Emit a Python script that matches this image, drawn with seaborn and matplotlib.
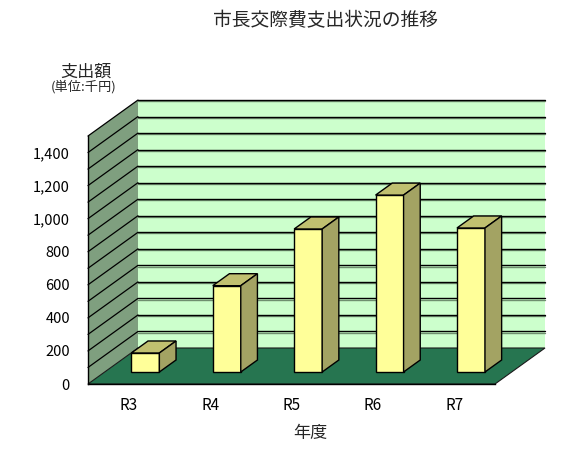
import numpy as np
import matplotlib
matplotlib.use("Agg")
import matplotlib.pyplot as plt
from matplotlib.patches import Polygon
from matplotlib.ticker import FixedLocator
import seaborn as sns

# data
years = ["R3", "R4", "R5", "R6", "R7"]
amounts = [115, 522, 865, 1070, 871]
y_ticks = [0, 200, 400, 600, 800, 1000, 1200, 1400]
grid_levels = list(range(100, 1501, 100))

title = "市長交際費支出状況の推移"
ylabel_main = "支出額"
ylabel_unit = "(単位:千円)"
xlabel = "年度"

# colours
wall_back = "#CCFFCC"
wall_side = "#7F9F7F"
floor_col = "#267550"
bar_front = "#FFFF99"
bar_top = "#C0C070"
bar_side = "#A3A363"

sns.set_style("white")
plt.rcParams["font.family"] = ["Noto Sans CJK JP", "DejaVu Sans"]

fig = plt.figure(figsize=(5.75, 4.55), dpi=100)
ax = fig.add_axes([88/575, 71/455, 407/575, 248/455])
ax.set_xlim(-0.5, 4.5)
ax.set_ylim(0, 1500)

# depth of the 3d box in data units
DX = 50 / 81.4
DY = 36 / (248 / 1500)

# walls and floor
left_wall = Polygon([(-0.5, 0), (-0.5 + DX, DY), (-0.5 + DX, 1500 + DY), (-0.5, 1500)],
                    closed=True, facecolor=wall_side, edgecolor="none", zorder=0, clip_on=False)
back_wall = Polygon([(-0.5 + DX, DY), (4.5 + DX, DY), (4.5 + DX, 1500 + DY), (-0.5 + DX, 1500 + DY)],
                    closed=True, facecolor=wall_back, edgecolor="none", zorder=0, clip_on=False)
floor = Polygon([(-0.5, 0), (4.5, 0), (4.5 + DX, DY), (-0.5 + DX, DY)],
                closed=True, facecolor=floor_col, edgecolor="#1a1a1a", lw=0.8, zorder=1, clip_on=False)
ax.add_patch(left_wall)
ax.add_patch(back_wall)
ax.add_patch(floor)

shadow = 1.2 / (248 / 1500)  # one pixel or so below each grid line
for lv in grid_levels:
    ax.plot([-0.5 + DX, 4.5 + DX], [lv + DY - shadow, lv + DY - shadow], color="#6f8f6f", lw=1, zorder=1, clip_on=False)
    ax.plot([-0.5 + DX, 4.5 + DX], [lv + DY, lv + DY], color="black", lw=1, zorder=1, clip_on=False)
    ax.plot([-0.5, -0.5 + DX], [lv, lv + DY], color="black", lw=0.9, zorder=1, clip_on=False)

# bars (front faces) by seaborn, pushed to 1/3 depth
sns.barplot(x=years, y=amounts, color=bar_front, saturation=1, width=0.344,
            edgecolor="black", linewidth=1, ax=ax, zorder=3)
dx, dy = DX / 3, DY / 3
for p in list(ax.patches):
    if p in (left_wall, back_wall, floor):
        continue
    p.set_x(p.get_x() + dx)
    p.set_y(p.get_y() + dy)
    p.set_clip_on(False)
    x0, y0 = p.get_x(), p.get_y()
    x1, y1 = x0 + p.get_width(), y0 + p.get_height()
    top = Polygon([(x0, y1), (x1, y1), (x1 + dx, y1 + dy), (x0 + dx, y1 + dy)],
                  closed=True, facecolor=bar_top, edgecolor="black", lw=1, zorder=3, clip_on=False)
    side = Polygon([(x1, y0), (x1 + dx, y0 + dy), (x1 + dx, y1 + dy), (x1, y1)],
                   closed=True, facecolor=bar_side, edgecolor="black", lw=1, zorder=3, clip_on=False)
    ax.add_patch(top)
    ax.add_patch(side)

ax.set_xlim(-0.5, 4.5)
ax.set_ylim(0, 1500)

# axes
for s in ["top", "right"]:
    ax.spines[s].set_visible(False)
for s in ["left", "bottom"]:
    ax.spines[s].set_color("black")
    ax.spines[s].set_linewidth(1)
    ax.spines[s].set_zorder(4)

ax.set_yticks(y_ticks)
ax.set_yticklabels([f"{v:,}" for v in y_ticks])
ax.tick_params(axis="y", length=0, pad=13, labelsize=10.5, colors="black")
ax.xaxis.set_minor_locator(FixedLocator(np.arange(-0.5, 5, 1)))
ax.tick_params(axis="x", which="major", length=0, pad=9.5, labelsize=11, colors="black")
ax.tick_params(axis="x", which="minor", length=3.5, width=1, direction="out", color="black")
ax.set_xlabel("")
ax.set_ylabel("")

fig.text(325/575, 1 - 21/455, title, ha="center", va="center", fontsize=13.5)
fig.text(86/575, 1 - 72/455, ylabel_main, ha="center", va="center", fontsize=12.3)
fig.text(84/575, 1 - 87/455, ylabel_unit, ha="center", va="center", fontsize=9.5)
fig.text(310/575, 1 - 433/455, xlabel, ha="center", va="center", fontsize=12.3)

fig.savefig("out.png", dpi=100, facecolor="white")
